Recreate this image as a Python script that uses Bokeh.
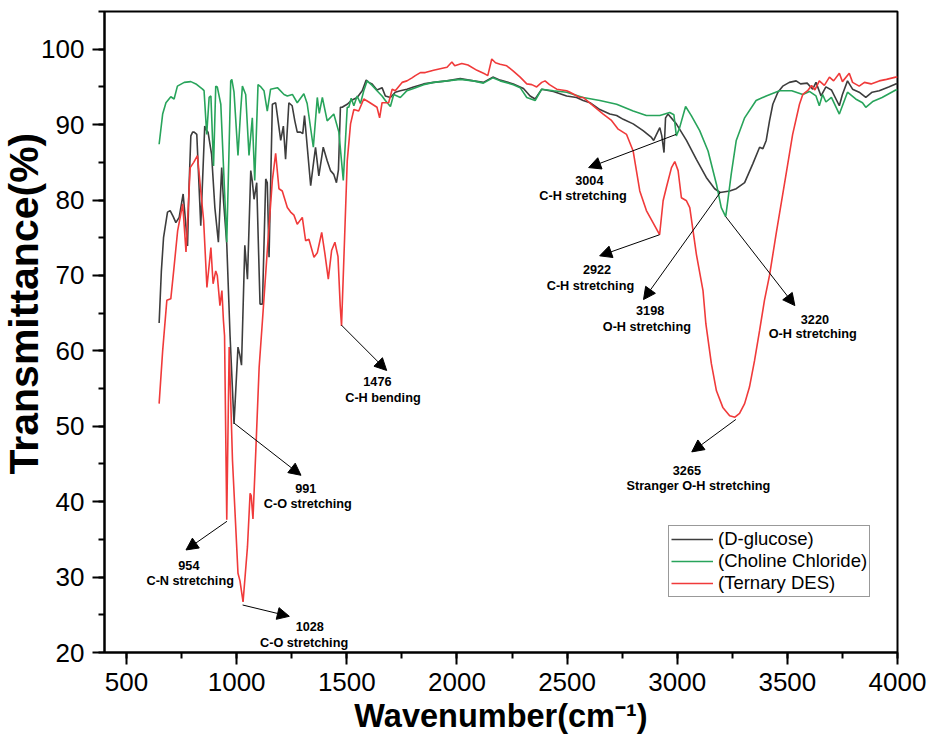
from bokeh.plotting import figure
from bokeh.models import (Range1d, SingleIntervalTicker, Arrow, NormalHead, Title,
                          ColumnDataSource)
from bokeh.embed import file_html
from bokeh.resources import INLINE
from bokeh.core.properties import value

# ---------------- data ----------------
wn_glucose = [648, 658, 668, 686, 698, 712, 724, 739, 757, 764, 777, 784, 792, 800, 807, 819,
              837, 855, 862, 870, 886, 901, 917, 932, 940, 955, 970, 988, 1006, 1014, 1022,
              1037, 1049, 1064, 1071, 1079, 1091, 1106, 1117, 1132, 1139, 1147, 1162, 1177,
              1188, 1200, 1212, 1222, 1237, 1252, 1264, 1275, 1290, 1300, 1308, 1320, 1336,
              1347, 1358, 1373, 1393, 1411, 1426, 1441, 1453, 1462, 1471, 1479, 1490, 1502,
              1520, 1547, 1570, 1588, 1600, 1615, 1637, 1660, 1675, 1698, 1720, 1743, 1773,
              1803, 1849, 1894, 1955, 2015, 2075, 2120, 2163, 2196, 2256, 2302, 2332, 2355,
              2385, 2438, 2498, 2543, 2573, 2604, 2649, 2694, 2725, 2755, 2800, 2845, 2883,
              2893, 2906, 2921, 2930, 2940, 2947, 2958, 2996, 3042, 3087, 3132, 3170, 3195,
              3238, 3268, 3306, 3343, 3374, 3389, 3404, 3419, 3434, 3457, 3479, 3509, 3540,
              3560, 3590, 3615, 3630, 3653, 3675, 3700, 3736, 3750, 3773, 3796, 3826, 3856,
              3885, 3917, 3960, 3992, 4000]
t_glucose = [63.7, 70.5, 75.0, 78.4, 78.6, 77.8, 77.0, 77.7, 80.8, 78.5, 73.9, 82.0, 88.5, 89.0,
             89.0, 88.7, 76.6, 89.8, 89.3, 89.0, 86.1, 79.0, 74.4, 84.3, 80.0, 74.2, 62.0, 50.3,
             60.5, 59.5, 58.1, 74.0, 69.5, 83.9, 82.5, 80.1, 82.3, 66.2, 66.2, 82.8, 82.3, 72.4,
             92.7, 92.9, 90.5, 87.9, 89.8, 85.4, 92.9, 92.5, 90.5, 89.0, 89.0, 88.8, 91.2, 87.2,
             81.9, 84.5, 87.0, 83.2, 87.0, 85.2, 83.9, 83.4, 82.3, 84.0, 92.3, 92.3, 92.5, 92.7,
             93.2, 93.6, 94.5, 95.9, 95.6, 95.4, 94.6, 94.9, 93.8, 93.6, 94.3, 94.5, 94.7, 95.0,
             95.4, 95.6, 95.8, 96.1, 95.8, 95.6, 96.3, 95.9, 95.4, 94.8, 93.8, 93.4, 94.7, 94.4,
             93.8, 93.6, 93.2, 92.9, 92.0, 91.4, 91.2, 90.7, 90.1, 89.2, 88.3, 87.9, 88.7, 89.6,
             88.5, 86.3, 90.9, 91.4, 90.1, 87.9, 85.4, 83.0, 81.5, 81.0, 81.2, 81.5, 82.3, 84.8,
             87.0, 86.8, 87.9, 90.5, 92.7, 94.3, 95.1, 95.6, 95.8, 95.4, 95.5, 94.7, 95.6, 93.8,
             95.0, 94.6, 92.5, 94.0, 95.8, 94.7, 94.3, 93.6, 94.3, 94.5, 95.0, 95.4, 95.4]

wn_choline = [648, 664, 679, 701, 716, 731, 762, 792, 815, 845, 852, 864, 875, 883, 895, 905,
              912, 928, 955, 973, 978, 988, 1006, 1018, 1026, 1041, 1056, 1071, 1082, 1097,
              1110, 1124, 1139, 1154, 1185, 1215, 1230, 1253, 1275, 1305, 1320, 1348, 1366,
              1375, 1389, 1411, 1441, 1464, 1484, 1502, 1509, 1520, 1532, 1547, 1562, 1577,
              1592, 1615, 1637, 1660, 1675, 1698, 1713, 1743, 1773, 1803, 1849, 1894, 1955,
              2015, 2075, 2120, 2163, 2196, 2256, 2287, 2317, 2355, 2385, 2438, 2498, 2573,
              2649, 2725, 2800, 2860, 2921, 2966, 2985, 2996, 3010, 3038, 3064, 3102, 3140,
              3178, 3200, 3220, 3230, 3245, 3268, 3306, 3358, 3404, 3464, 3520, 3570, 3600,
              3630, 3645, 3660, 3675, 3700, 3736, 3773, 3810, 3841, 3856, 3890, 3930, 3992, 4000]
t_choline = [87.4, 91.4, 92.9, 93.7, 93.4, 95.1, 95.6, 95.7, 95.4, 94.7, 94.5, 88.7, 93.6, 93.8,
             84.5, 95.1, 95.0, 92.7, 74.4, 95.8, 96.0, 94.3, 85.9, 91.8, 95.1, 94.0, 85.9, 90.9,
             82.6, 95.3, 95.0, 94.5, 91.8, 94.7, 94.9, 94.0, 93.8, 94.0, 92.9, 94.1, 92.8, 87.0,
             93.6, 91.5, 93.6, 90.5, 91.4, 89.0, 82.6, 92.3, 92.3, 93.5, 92.5, 93.8, 92.8, 94.5,
             95.8, 95.2, 94.5, 93.8, 93.2, 92.4, 94.0, 93.6, 94.5, 94.8, 95.3, 95.6, 95.8, 96.0,
             95.8, 95.5, 96.2, 95.8, 95.3, 94.9, 93.6, 93.2, 94.7, 94.5, 94.3, 93.6, 93.2, 92.7,
             91.8, 91.2, 91.2, 91.6, 91.3, 88.5, 89.5, 92.4, 91.2, 89.2, 86.5, 82.1, 79.0, 77.8,
             80.0, 83.4, 87.9, 90.9, 93.2, 93.8, 94.5, 94.5, 94.0, 94.4, 93.8, 92.5, 94.0, 93.0,
             93.6, 91.4, 94.3, 93.4, 92.9, 92.3, 93.1, 93.6, 94.6, 94.6]

wn_ternary = [648, 664, 683, 701, 714, 732, 755, 770, 789, 805, 822, 837, 850, 865, 883, 893,
              905, 912, 924, 933, 940, 945, 955, 966, 981, 1006, 1015, 1029, 1049, 1061, 1066,
              1074, 1087, 1102, 1117, 1140, 1162, 1177, 1192, 1207, 1230, 1245, 1260, 1275,
              1298, 1313, 1328, 1351, 1366, 1386, 1400, 1416, 1431, 1446, 1460, 1470, 1476,
              1490, 1502, 1517, 1532, 1554, 1577, 1600, 1637, 1649, 1660, 1690, 1706, 1720,
              1751, 1773, 1796, 1811, 1834, 1856, 1894, 1939, 1955, 1977, 1990, 2022, 2050,
              2091, 2128, 2140, 2158, 2175, 2196, 2226, 2256, 2287, 2317, 2340, 2362, 2385,
              2400, 2420, 2453, 2498, 2513, 2558, 2573, 2619, 2664, 2700, 2732, 2770, 2800,
              2830, 2860, 2890, 2920, 2936, 2951, 2974, 2989, 3004, 3019, 3042, 3057, 3087,
              3117, 3130, 3155, 3178, 3207, 3238, 3262, 3283, 3306, 3328, 3351, 3374, 3396,
              3419, 3449, 3494, 3524, 3555, 3570, 3592, 3610, 3625, 3645, 3668, 3691, 3710,
              3736, 3750, 3781, 3796, 3826, 3850, 3880, 3917, 3950, 3992, 4000]
t_ternary = [53.0, 60.0, 66.7, 66.9, 70.6, 75.9, 79.5, 73.1, 84.3, 85.0, 85.9, 81.2, 77.3, 68.4,
             73.7, 68.9, 70.6, 70.0, 66.0, 68.0, 64.0, 62.0, 37.6, 60.5, 45.5, 30.5, 29.5, 26.7,
             34.0, 41.1, 40.8, 37.7, 46.8, 57.8, 64.0, 73.7, 82.6, 86.2, 81.5, 81.2, 79.0, 78.4,
             78.0, 76.8, 77.7, 74.6, 74.8, 72.4, 73.0, 75.7, 73.0, 69.5, 73.3, 74.4, 72.5, 66.0,
             63.3, 75.0, 85.2, 90.1, 92.0, 91.8, 93.4, 93.0, 92.3, 90.9, 92.9, 92.9, 94.7, 94.5,
             95.6, 95.8, 96.2, 96.5, 96.9, 96.9, 97.2, 97.5, 97.6, 98.3, 97.8, 98.1, 97.9, 97.2,
             96.7, 96.5, 98.7, 98.2, 98.0, 97.8, 97.1, 96.3, 95.4, 95.3, 95.0, 95.6, 95.8, 95.3,
             94.7, 94.5, 94.3, 93.6, 93.6, 92.5, 91.4, 90.6, 89.4, 88.7, 86.5, 81.2, 78.6, 77.0,
             75.4, 79.9, 81.7, 84.3, 85.1, 83.9, 80.3, 79.9, 79.0, 72.8, 68.0, 63.6, 58.3, 54.7,
             52.5, 51.4, 51.2, 51.7, 53.0, 55.2, 58.7, 62.7, 66.7, 70.0, 75.5, 83.4, 88.7, 92.7,
             94.0, 94.5, 95.2, 94.6, 95.8, 95.2, 96.3, 95.8, 96.8, 95.7, 96.8, 95.6, 95.1, 95.6,
             95.4, 95.8, 96.0, 96.3, 96.3]

series_names = ["(D-glucose)", "(Choline Chloride)", "(Ternary DES)"]
series_colors = ["#3d3d3d", "#28a45b", "#f03a3a"]

x_title = "Wavenumber(cm\u207b\u00b9)"
y_title = "Transmittance(%)"

# peak annotations: peak number, assignment, peak point, arrow tip, label positions
ann_number = ["991", "954", "1028", "1476", "3004", "2922", "3198", "3220", "3265"]
ann_mode = ["C-O stretching", "C-N stretching", "C-O stretching", "C-H bending",
            "C-H stretching", "C-H stretching", "O-H stretching", "O-H stretching",
            "Stranger O-H stretching"]
ann_peak_x = [989, 956, 1027, 1476, 2995, 2920, 3195, 3220, 3266]
ann_peak_y = [50.4, 37.4, 26.3, 63.4, 88.7, 75.4, 81.0, 77.8, 50.9]
ann_tip_x = [1292, 770, 1239, 1681, 2598, 2648, 2847, 3534, 3066]
ann_tip_y = [43.5, 33.6, 24.8, 57.4, 84.3, 72.6, 66.8, 66.0, 46.6]
ann_num_x = [1314, 783, 1332, 1639, 2601, 2636, 2877, 3625, 3044]
ann_num_y = [41.8, 31.6, 23.5, 55.9, 82.6, 70.8, 65.3, 64.2, 44.2]
ann_mode_x = [1323, 789, 1306, 1664, 2572, 2606, 2862, 3615, 3096]
ann_mode_y = [39.7, 29.5, 21.3, 53.8, 80.5, 68.6, 63.2, 62.2, 42.1]

FONT = "Liberation Sans"

# ---------------- figure ----------------
p = figure(width=928, height=738, output_backend="svg", toolbar_location=None,
           x_range=Range1d(400, 4000), y_range=Range1d(20, 105),
           min_border_left=104, min_border_right=31, min_border_top=11, min_border_bottom=86,
           background_fill_color="white", border_fill_color="white")
p.grid.visible = False
p.outline_line_color = "black"
p.outline_line_width = 2
p.outline_line_alpha = 1

p.xaxis.ticker = SingleIntervalTicker(interval=500, num_minor_ticks=2)
p.yaxis.ticker = SingleIntervalTicker(interval=10, num_minor_ticks=2)
for ax in (p.xaxis[0], p.yaxis[0]):
    ax.axis_line_width = 2
    ax.axis_line_color = "black"
    ax.major_tick_line_width = 2
    ax.minor_tick_line_width = 2
    ax.major_tick_line_color = "black"
    ax.minor_tick_line_color = "black"
    ax.major_tick_out = 12
    ax.major_tick_in = 0
    ax.minor_tick_out = 6
    ax.minor_tick_in = 0
    ax.major_label_text_font = FONT
    ax.major_label_text_font_size = "26px"
    ax.major_label_text_color = "black"
    ax.major_label_standoff = 8
    ax.axis_label = None

# axis titles as side-panel titles, placed like the reference
p.add_layout(Title(text=x_title, align="center", vertical_align="bottom", standoff=4,
                   text_font=FONT, text_font_style="bold", text_font_size="32.5px",
                   text_color="black"), "below")
p.add_layout(Title(text=y_title, align="left", offset=178, standoff=-16,
                   vertical_align="bottom",
                   text_font=FONT, text_font_style="bold", text_font_size="41px",
                   text_color="black"), "left")

for wn, tr, name, col in zip([wn_glucose, wn_choline, wn_ternary],
                             [t_glucose, t_choline, t_ternary],
                             series_names, series_colors):
    p.line(wn, tr, line_color=col, line_width=1.6, legend_label=name)

# arrows
arrow_src = ColumnDataSource(dict(x0=ann_peak_x, y0=ann_peak_y, x1=ann_tip_x, y1=ann_tip_y))
p.add_layout(Arrow(source=arrow_src, x_start="x0", y_start="y0", x_end="x1", y_end="y1",
                   line_color="black", line_width=1,
                   end=NormalHead(size=12, fill_color="black", line_color="black", line_width=1)))

txt_src = ColumnDataSource(dict(x=ann_num_x + ann_mode_x, y=ann_num_y + ann_mode_y,
                                t=ann_number + ann_mode))
p.text(x="x", y="y", text="t", source=txt_src, text_font=value(FONT),
       text_font_style="bold", text_font_size="12.7px", text_align="center",
       text_baseline="middle", text_color="black")

# legend
lg = p.legend[0]
lg.location = (564, 55)
lg.margin = 0
lg.padding = 2
lg.spacing = 0
lg.glyph_width = 42
lg.glyph_height = 20
lg.label_height = 20
lg.label_standoff = 5
lg.label_text_font = FONT
lg.label_text_font_size = "18.5px"
lg.label_text_color = "black"
lg.border_line_color = "#333333"
lg.border_line_width = 1
lg.background_fill_color = "white"
lg.background_fill_alpha = 1

open("out.html", "w").write(file_html(p, INLINE))
